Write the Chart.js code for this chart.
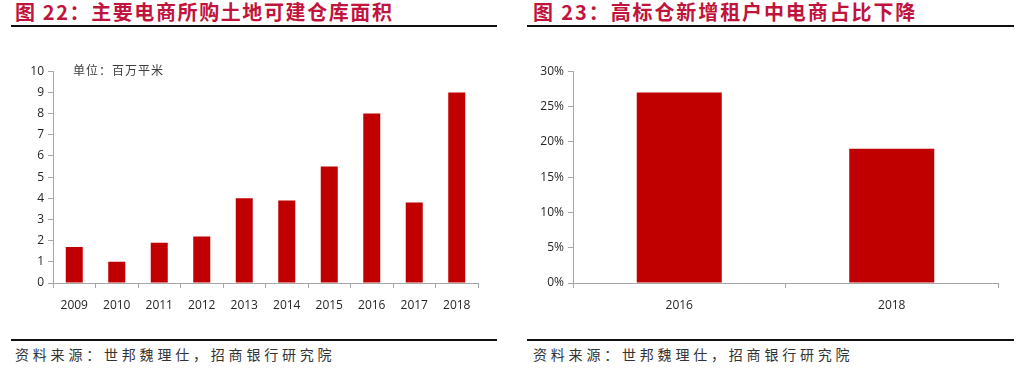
<!DOCTYPE html>
<html>
<head>
<meta charset="utf-8">
<script src="https://cdn.jsdelivr.net/npm/chart.js@4"></script>
<style>
  body{margin:0;width:1027px;height:369px;background:#fff;position:relative;overflow:hidden;font-family:"Noto Sans CJK SC",sans-serif;}
  .title{position:absolute;top:0;font-size:20px;font-weight:bold;color:#c0143c;white-space:nowrap;line-height:24px;}
  .rule{position:absolute;height:2px;background:#111;}
  .src{position:absolute;top:345px;font-size:14px;color:#333;white-space:nowrap;letter-spacing:3.8px;line-height:18px;}
  .unit{position:absolute;left:73px;top:61px;font-size:12px;color:#404040;letter-spacing:1px;}
  .box{position:absolute;top:60px;width:500px;height:260px;}
</style>
</head>
<body>
<div class="title" style="left:15px;letter-spacing:1.6px;">图 22：主要电商所购土地可建仓库面积</div>
<div class="title" style="left:533px;letter-spacing:1.9px;">图 23：高标仓新增租户中电商占比下降</div>
<div class="rule" style="left:11px;width:486px;top:25px;"></div>
<div class="rule" style="left:527px;width:487px;top:25px;"></div>
<div class="box" style="left:0;"><canvas id="left"></canvas></div>
<div class="box" style="left:520px;"><canvas id="right"></canvas></div>
<div class="unit">单位：百万平米</div>
<div class="rule" style="left:11px;width:486px;top:339px;"></div>
<div class="rule" style="left:527px;width:487px;top:339px;"></div>
<div class="src" style="left:15px;">资料来源：世邦魏理仕，招商银行研究院</div>
<div class="src" style="left:533px;">资料来源：世邦魏理仕，招商银行研究院</div>
<script>
// --- DATA ---
const areaYears = ['2009','2010','2011','2012','2013','2014','2015','2016','2017','2018'];
const areaValues = [1.7, 1.0, 1.9, 2.2, 4.0, 3.9, 5.5, 8.0, 3.8, 9.0];
const shareYears = ['2016','2018'];
const shareValues = [27, 19];

const BAR = '#c00000';
const AXIS = '#a6a6a6';
const TICK_FONT = {family:'"Open Sans", sans-serif', size:12};

function makeChart(id, labels, values, yMax, yStep, fmt){
  return new Chart(document.getElementById(id), {
    type:'bar',
    data:{labels, datasets:[{data:values, backgroundColor:BAR, borderWidth:0, categoryPercentage:1, barPercentage:0.4}]},
    options:{
      responsive:false, animation:false,
      layout:{padding:{top:10, right:22, left:0, bottom:0}},
      plugins:{legend:{display:false}, tooltip:{enabled:false}},
      scales:{
        x:{
          grid:{drawOnChartArea:false, drawTicks:true, tickLength:5, color:AXIS, offset:true},
          border:{color:AXIS, width:1},
          ticks:{color:'#262626', font:TICK_FONT, padding:10, maxRotation:0},
          afterFit(s){ s.height = 37; }
        },
        y:{
          min:0, max:yMax,
          grid:{drawOnChartArea:false, drawTicks:true, tickLength:5, color:AXIS},
          border:{color:AXIS, width:1},
          ticks:{stepSize:yStep, color:'#262626', font:TICK_FONT, padding:4, callback:fmt},
          afterFit(s){ s.width = 53; }
        }
      }
    }
  });
}

function sizeCanvas(id){ const c=document.getElementById(id); c.width=500; c.height=260; c.style.width='500px'; c.style.height='260px'; }
sizeCanvas('left'); sizeCanvas('right');
makeChart('left', areaYears, areaValues, 10, 1, v=>v);
makeChart('right', shareYears, shareValues, 30, 5, v=>v+'%');
</script>
</body>
</html>
